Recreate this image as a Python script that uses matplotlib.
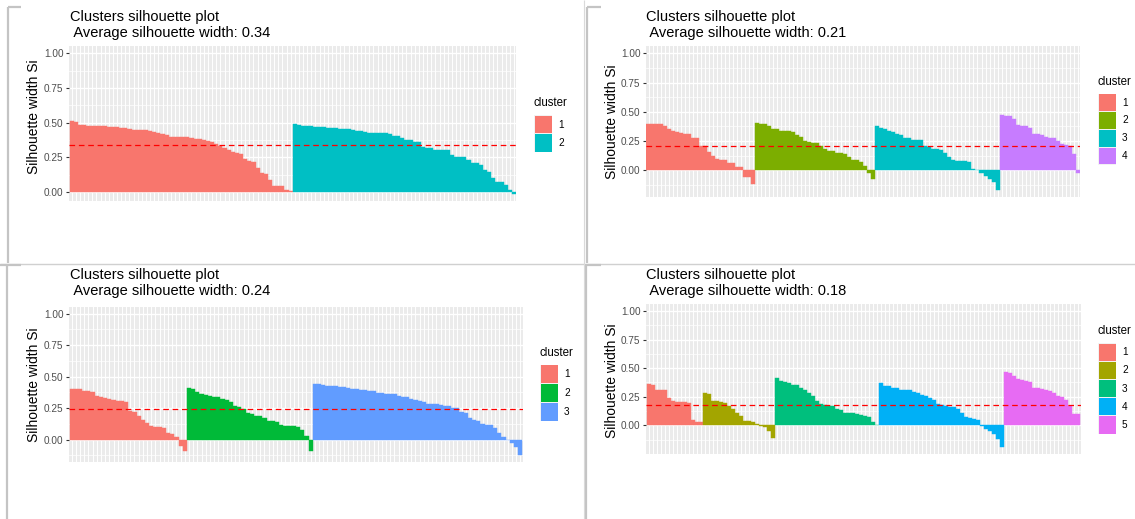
import numpy as np
import matplotlib
matplotlib.use("Agg")
import matplotlib.pyplot as plt
from matplotlib.patches import Rectangle
from matplotlib.lines import Line2D

plt.rcParams['font.family'] = ['Liberation Sans', 'DejaVu Sans']

W, H, DPI = 1135, 519, 100

# Silhouette widths, sorted within each cluster (k = 2, 4, 3, 5)
k2_widths = [
    [0.51, 0.505, 0.482, 0.480, 0.479, 0.478, 0.477, 0.475, 0.473, 0.471, 0.469, 0.466,
     0.46, 0.458, 0.456, 0.448, 0.447, 0.446, 0.445, 0.443, 0.432, 0.425, 0.416, 0.414,
     0.40, 0.40, 0.398, 0.396, 0.394, 0.388, 0.385, 0.38, 0.372, 0.365, 0.36, 0.345,
     0.335, 0.32, 0.305, 0.285, 0.28, 0.272, 0.235, 0.222, 0.218, 0.17, 0.135, 0.13,
     0.09, 0.045, 0.044, 0.042, 0.012, 0.005],
    [0.49, 0.48, 0.475, 0.474, 0.473, 0.472, 0.467, 0.466, 0.465, 0.463, 0.461, 0.455,
     0.453, 0.452, 0.45, 0.442, 0.44, 0.43, 0.428, 0.427, 0.426, 0.425, 0.424, 0.418,
     0.405, 0.402, 0.39, 0.376, 0.374, 0.362, 0.36, 0.322, 0.32, 0.318, 0.305, 0.303,
     0.301, 0.30, 0.265, 0.255, 0.252, 0.25, 0.233, 0.21, 0.208, 0.192, 0.156, 0.145,
     0.10, 0.073, 0.07, 0.048, 0.017, -0.017],
]
k4_widths = [
    [0.40, 0.40, 0.395, 0.392, 0.382, 0.35, 0.336, 0.326, 0.322, 0.312, 0.308, 0.275,
     0.272, 0.21, 0.205, 0.158, 0.121, 0.094, 0.092, 0.09, 0.064, 0.062, 0.03, 0.027,
     -0.055, -0.06, -0.115],
    [0.402, 0.40, 0.394, 0.379, 0.355, 0.352, 0.338, 0.336, 0.334, 0.33, 0.302, 0.282,
     0.253, 0.238, 0.236, 0.234, 0.207, 0.178, 0.166, 0.162, 0.15, 0.148, 0.142, 0.115,
     0.088, 0.085, 0.07, 0.04, -0.02, -0.072],
    [0.38, 0.36, 0.355, 0.335, 0.33, 0.31, 0.305, 0.28, 0.278, 0.262, 0.258, 0.255,
     0.205, 0.20, 0.18, 0.178, 0.175, 0.152, 0.11, 0.085, 0.078, 0.077, 0.076, 0.075,
     0.01, 0.005, -0.023, -0.049, -0.072, -0.10, -0.167],
    [0.474, 0.466, 0.465, 0.437, 0.388, 0.38, 0.378, 0.36, 0.312, 0.31, 0.30, 0.285,
     0.28, 0.278, 0.25, 0.225, 0.22, 0.21, 0.14, -0.02],
]
k3_widths = [
    [0.405, 0.40, 0.40, 0.39, 0.385, 0.38, 0.345, 0.34, 0.33, 0.325, 0.315, 0.31,
     0.305, 0.30, 0.225, 0.22, 0.19, 0.16, 0.13, 0.11, 0.10, 0.10, 0.095, 0.05, 0.045,
     0.02, -0.05, -0.09],
    [0.41, 0.405, 0.375, 0.365, 0.355, 0.35, 0.34, 0.335, 0.32, 0.315, 0.30, 0.265,
     0.26, 0.245, 0.21, 0.205, 0.19, 0.185, 0.17, 0.145, 0.145, 0.14, 0.115, 0.11,
     0.105, 0.105, 0.10, 0.08, 0.03, -0.09],
    [0.445, 0.44, 0.435, 0.43, 0.428, 0.425, 0.42, 0.415, 0.41, 0.40, 0.40, 0.395,
     0.395, 0.39, 0.385, 0.37, 0.37, 0.365, 0.36, 0.36, 0.345, 0.34, 0.335, 0.32,
     0.315, 0.305, 0.30, 0.285, 0.28, 0.28, 0.275, 0.27, 0.265, 0.255, 0.25, 0.22,
     0.21, 0.17, 0.16, 0.145, 0.125, 0.12, 0.115, 0.095, 0.05, 0.02, -0.005, -0.025,
     -0.06, -0.12],
]
k5_widths = [
    [0.365, 0.35, 0.31, 0.31, 0.305, 0.24, 0.21, 0.205, 0.205, 0.20, 0.195, 0.05,
     0.03, 0.025],
    [0.285, 0.27, 0.215, 0.21, 0.20, 0.195, 0.17, 0.14, 0.11, 0.08, 0.04, 0.035,
     0.025, 0.015, -0.01, -0.015, -0.05, -0.11],
    [0.41, 0.385, 0.38, 0.37, 0.355, 0.35, 0.33, 0.31, 0.285, 0.26, 0.21, 0.185,
     0.18, 0.17, 0.165, 0.14, 0.135, 0.11, 0.11, 0.105, 0.10, 0.09, 0.085, 0.07,
     0.03, 0.005],
    [0.37, 0.345, 0.34, 0.33, 0.325, 0.31, 0.308, 0.305, 0.29, 0.285, 0.265, 0.26,
     0.24, 0.225, 0.185, 0.18, 0.165, 0.162, 0.16, 0.14, 0.105, 0.07, 0.06, 0.055,
     0.05, -0.01, -0.03, -0.05, -0.075, -0.12, -0.19],
    [0.47, 0.46, 0.43, 0.405, 0.40, 0.385, 0.38, 0.33, 0.325, 0.32, 0.31, 0.30,
     0.28, 0.26, 0.245, 0.22, 0.17, 0.10, 0.095],
]

avg_widths = [0.34, 0.21, 0.24, 0.18]
y_ticks = [0.0, 0.25, 0.5, 0.75, 1.0]
y_tick_labels = ["0.00", "0.25", "0.50", "0.75", "1.00"]

hue_palettes = {
    2: ["#F8766D", "#00BFC4"],
    3: ["#F8766D", "#00BA38", "#619CFF"],
    4: ["#F8766D", "#7CAE00", "#00BFC4", "#C77CFF"],
    5: ["#F8766D", "#A3A500", "#00BF7D", "#00B0F6", "#E76BF3"],
}

fig = plt.figure(figsize=(W / DPI, H / DPI), dpi=DPI)
fig.patch.set_facecolor("white")


def fx(x):
    return x / W


def fy(y):
    return 1 - y / H


def draw_panel(widths, avg, bars_left, bars_right, y1_px, y0_px,
               title_x, title_y, leg_x, leg_y, key_h, ylab_x, ylab_y):
    colors = hue_palettes[len(widths)]
    values = np.concatenate([np.asarray(w, float) for w in widths])
    groups = np.concatenate([[i] * len(w) for i, w in enumerate(widths)])
    n = len(values)

    lo_data = min(values.min(), 0.0)
    span = 1.0 - lo_data
    ylo, yhi = lo_data - 0.05 * span, 1.0 + 0.05 * span

    bw = (bars_right - bars_left) / n
    left = bars_left - 0.1 * bw
    right = bars_right + 0.1 * bw
    unit = y0_px - y1_px
    top = y1_px - (yhi - 1.0) * unit
    bottom = y0_px - ylo * unit

    ax = fig.add_axes([fx(left), fy(bottom), (right - left) / W, (bottom - top) / H])
    ax.set_facecolor("#EBEBEB")
    ax.set_xlim(-0.6, n - 0.4)
    ax.set_ylim(ylo, yhi)

    # panel grid
    for t in y_ticks:
        ax.axhline(t, color="white", lw=1.0, zorder=0.5)
    for t in np.arange(-0.125, 1.0, 0.25):
        if ylo < t < yhi:
            ax.axhline(t, color="white", lw=0.5, zorder=0.5)
    for xi in range(n):
        ax.axvline(xi, color="white", lw=0.7, zorder=0.5)

    bar_colors = [colors[g] for g in groups]
    ax.bar(np.arange(n), values, width=1.0, color=bar_colors,
           edgecolor=bar_colors, linewidth=0.3, zorder=2)
    ax.axhline(avg, color="red", lw=0.9, ls=(0, (4.5, 3)), zorder=3)

    for s in ax.spines.values():
        s.set_visible(False)
    ax.set_xticks([])
    ax.set_yticks(y_ticks)
    ax.set_yticklabels(y_tick_labels)
    ax.tick_params(axis="y", length=2.5, width=0.8, color="#333333",
                   labelcolor="#4D4D4D", labelsize=7.2, pad=1.5)
    ax.set_ylabel("Silhouette width Si", fontsize=10, color="black")
    ax.yaxis.label.set_va("center")
    ax.yaxis.set_label_coords((ylab_x - left) / (right - left),
                              (bottom - ylab_y) / (bottom - top))

    fig.text(fx(title_x), fy(title_y), "Clusters silhouette plot",
             fontsize=10.5, ha="left", va="center")
    fig.text(fx(title_x), fy(title_y + 16), " Average silhouette width: %.2f" % avg,
             fontsize=10.5, ha="left", va="center")

    # legend
    fig.text(fx(leg_x), fy(leg_y), "cluster", fontsize=8.3, ha="left", va="center")
    key_w = 18.0
    for i, c in enumerate(colors):
        ktop = leg_y + 12 + i * key_h
        fig.add_artist(Rectangle((fx(leg_x), fy(ktop + key_h)), key_w / W, key_h / H,
                                 facecolor="#F2F2F2", edgecolor="none",
                                 transform=fig.transFigure))
        fig.add_artist(Rectangle((fx(leg_x + 0.5), fy(ktop + key_h - 0.5)),
                                 (key_w - 1) / W, (key_h - 1) / H,
                                 facecolor=c, edgecolor="none",
                                 transform=fig.transFigure))
        fig.text(fx(leg_x + key_w + 6), fy(ktop + key_h / 2), str(i + 1),
                 fontsize=7.2, ha="left", va="center")


draw_panel(k2_widths, avg_widths[0], 69.5, 516.0, 53.3, 192.0,
           69.5, 16.7, 534, 103.3, 18.5, 34, 117)
draw_panel(k4_widths, avg_widths[1], 646.5, 1079.8, 53.3, 170.3,
           646.5, 16.7, 1098, 81.7, 17.8, 612.5, 121.5)
draw_panel(k3_widths, avg_widths[2], 69.5, 522.4, 313.7, 439.7,
           69.5, 275.3, 540, 352.7, 18.8, 34, 384.5)
draw_panel(k5_widths, avg_widths[3], 646.5, 1080.2, 311.0, 425.3,
           646.5, 274.7, 1098, 331.0, 18.2, 612.5, 381)

# frame lines separating the four plots
sep = "#C4C4C4"


def seg(x0, y0, x1, y1, lw=1.6, color=sep):
    fig.add_artist(Line2D([fx(x0), fx(x1)], [fy(y0), fy(y1)], color=color, lw=lw,
                          transform=fig.transFigure, solid_capstyle="butt"))


seg(0, 263.5, W, 263.5, lw=1.0, color="#D0D0D0")
seg(8, 7, 8, 263)
seg(8, 7, 21, 7)
seg(587, 7, 587, 263)
seg(587, 7, 601, 7)
seg(7, 264, 7, 519)
seg(0, 264.5, 21, 264.5)
seg(586, 264, 586, 519)
seg(586, 264.5, 601, 264.5)
seg(584, 0, 584, 519, lw=0.8, color="#DADADA")

fig.savefig("out.png", dpi=DPI, facecolor="white")
